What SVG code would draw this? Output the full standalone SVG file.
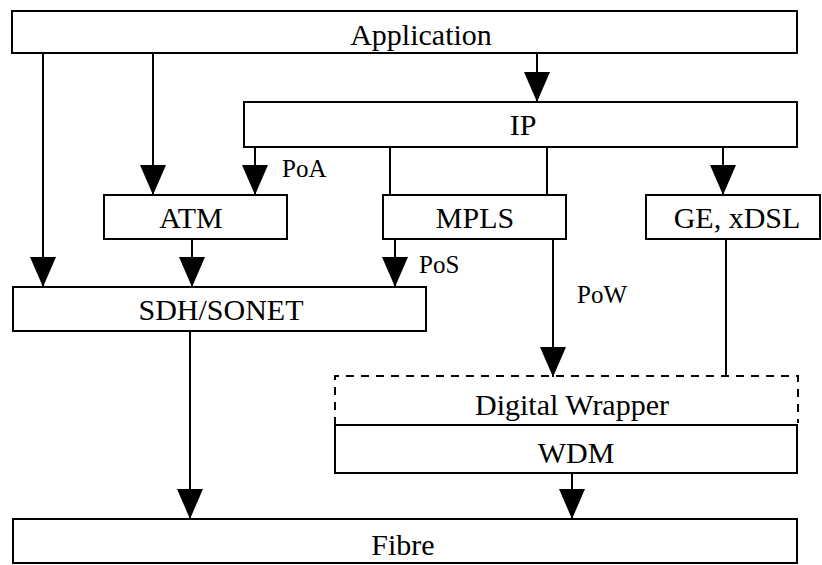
<svg xmlns="http://www.w3.org/2000/svg" width="822" height="565" viewBox="0 0 822 565">
<style>
.box{fill:#fff;stroke:#000;stroke-width:2}
.dash{fill:none;stroke:#000;stroke-width:2;stroke-dasharray:8 7}
.lbl{font-family:'Liberation Serif','Times New Roman','DejaVu Serif',serif;font-size:30px;fill:#000;text-anchor:middle}
.sm{font-family:'Liberation Serif','Times New Roman','DejaVu Serif',serif;font-size:25px;fill:#000}
.c{stroke:#000;stroke-width:2;fill:none}
.a{marker-end:url(#ah)}
</style>
<defs>
<marker id="ah" viewBox="0 0 30 26" refX="30" refY="13" markerWidth="30" markerHeight="26" markerUnits="userSpaceOnUse" orient="auto">
<path d="M0,0 L30,13 L0,26 Z" fill="#000"/>
</marker>
</defs>
<rect width="822" height="565" fill="#fff"/>
<g id="connectors">
<line class="c a" x1="43" y1="53" x2="43" y2="287"/>
<line class="c a" x1="153" y1="53" x2="153" y2="195"/>
<line class="c a" x1="537" y1="53" x2="537" y2="102"/>
<line class="c a" x1="255" y1="147" x2="255" y2="195"/>
<line class="c" x1="390" y1="147" x2="390" y2="195"/>
<line class="c" x1="547" y1="147" x2="547" y2="195"/>
<line class="c a" x1="723" y1="147" x2="723" y2="195"/>
<line class="c a" x1="192" y1="239" x2="192" y2="287"/>
<line class="c a" x1="395" y1="239" x2="395" y2="287"/>
<line class="c a" x1="553" y1="239" x2="553" y2="377"/>
<line class="c" x1="726" y1="239" x2="726" y2="376"/>
<line class="c a" x1="190" y1="331" x2="190" y2="519"/>
<line class="c a" x1="572" y1="473" x2="572" y2="519"/>
<text class="sm" x="282" y="177" font-family="Liberation Serif, serif">PoA</text>
<text class="sm" x="419" y="273" font-family="Liberation Serif, serif">PoS</text>
<text class="sm" x="577" y="303" font-family="Liberation Serif, serif">PoW</text>
</g>
<g id="application">
<rect class="box" x="12" y="11" width="785" height="42"/>
<text class="lbl" x="421" y="45">Application</text>
</g>
<g id="ip">
<rect class="box" x="244" y="102" width="553" height="45"/>
<text class="lbl" x="523" y="135">IP</text>
</g>
<g id="atm">
<rect class="box" x="104" y="195" width="183" height="44"/>
<text class="lbl" x="191" y="228">ATM</text>
</g>
<g id="mpls">
<rect class="box" x="383" y="195" width="183" height="44"/>
<text class="lbl" x="475" y="228">MPLS</text>
</g>
<g id="ge-xdsl">
<rect class="box" x="646" y="195" width="174" height="44"/>
<text class="lbl" x="737" y="228">GE, xDSL</text>
</g>
<g id="sdh-sonet">
<rect class="box" x="13" y="287" width="413" height="44"/>
<text class="lbl" x="221" y="320">SDH/SONET</text>
</g>
<g id="digital-wrapper">
<path class="dash" d="M335,425 L335,376 L798,376 L798,423"/>
<text class="lbl" x="572" y="415">Digital Wrapper</text>
</g>
<g id="wdm">
<rect class="box" x="335" y="425" width="462" height="48"/>
<text class="lbl" x="576" y="463">WDM</text>
</g>
<g id="fibre">
<rect class="box" x="13" y="519" width="784" height="44"/>
<text class="lbl" x="403" y="555">Fibre</text>
</g>
</svg>
